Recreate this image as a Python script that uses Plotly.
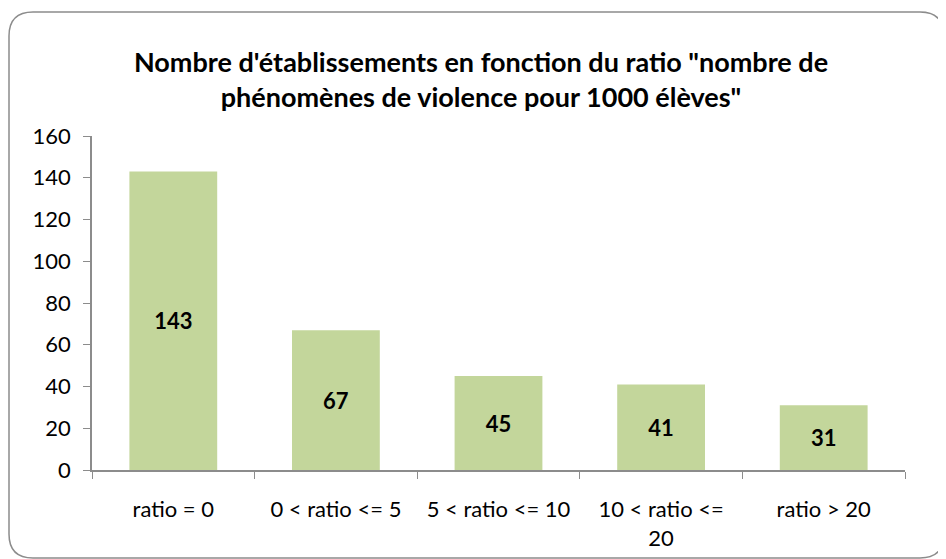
import plotly.graph_objects as go

categories = ["ratio = 0", "0 < ratio <= 5", "5 < ratio <= 10", "10 < ratio <=<br>20", "ratio > 20"]
values = [143, 67, 45, 41, 31]
y_ticks = [0, 20, 40, 60, 80, 100, 120, 140, 160]

W, H = 946, 559
OFF = 8  # page body margin
L, R, T, B = 92 - OFF, 905 - OFF, 136 - OFF, 470 - OFF

fig = go.Figure(go.Bar(
    x=categories, y=values,
    marker=dict(color="#C3D69B", line=dict(width=0)),
    text=[str(v) for v in values],
    textposition="inside", insidetextanchor="middle",
    textfont=dict(family="Lato", size=22, color="black", weight="bold"),
    textangle=0,
    width=0.54,
))

def px(x):
    return (x - OFF - L) / (R - L)

def py(y):
    return (B - (y - OFF)) / (B - T)

x0, y0, x1, y1, r = 9, 12, 944, 558, 24
path = (f"M {px(x0+r)},{py(y0)} L {px(x1-r)},{py(y0)} Q {px(x1)},{py(y0)} {px(x1)},{py(y0+r)} "
        f"L {px(x1)},{py(y1-r)} Q {px(x1)},{py(y1)} {px(x1-r)},{py(y1)} "
        f"L {px(x0+r)},{py(y1)} Q {px(x0)},{py(y1)} {px(x0)},{py(y1-r)} "
        f"L {px(x0)},{py(y0+r)} Q {px(x0)},{py(y0)} {px(x0+r)},{py(y0)} Z")

fig.update_layout(
    width=W, height=H,
    margin=dict(l=L, r=W - R, t=T, b=H - B, autoexpand=False),
    paper_bgcolor="white", plot_bgcolor="white",
    showlegend=False,
    title=dict(
        text="Nombre d'établissements en fonction du ratio \"nombre de<br>phénomènes de violence pour 1000 élèves\"",
        x=0.5, xanchor="center", y=1 - (72 - OFF) / H, yanchor="middle",
        font=dict(family="Lato", size=27, color="black", weight="bold"),
    ),
    font=dict(family="Lato", size=22, color="black"),
    shapes=[dict(type="path", xref="paper", yref="paper", path=path,
                 line=dict(color="#8C8C8C", width=1.5), layer="below")],
)
fig.update_xaxes(
    showline=True, linecolor="#8C8C8C", linewidth=1.5,
    ticks="outside", ticklen=7, tickcolor="#8C8C8C", tickson="boundaries",
    showgrid=False, tickfont=dict(family="Lato", size=22, color="black"),
    ticklabelstandoff=19,
)
fig.update_yaxes(
    range=[0, 160], tickvals=y_ticks, showline=True, linecolor="#8C8C8C", linewidth=1.5,
    ticks="outside", ticklen=7, tickcolor="#8C8C8C", showgrid=False, zeroline=False,
    tickfont=dict(family="Lato", size=22, color="black"),
    ticklabelstandoff=8,
)
fig.write_html("out.html")
